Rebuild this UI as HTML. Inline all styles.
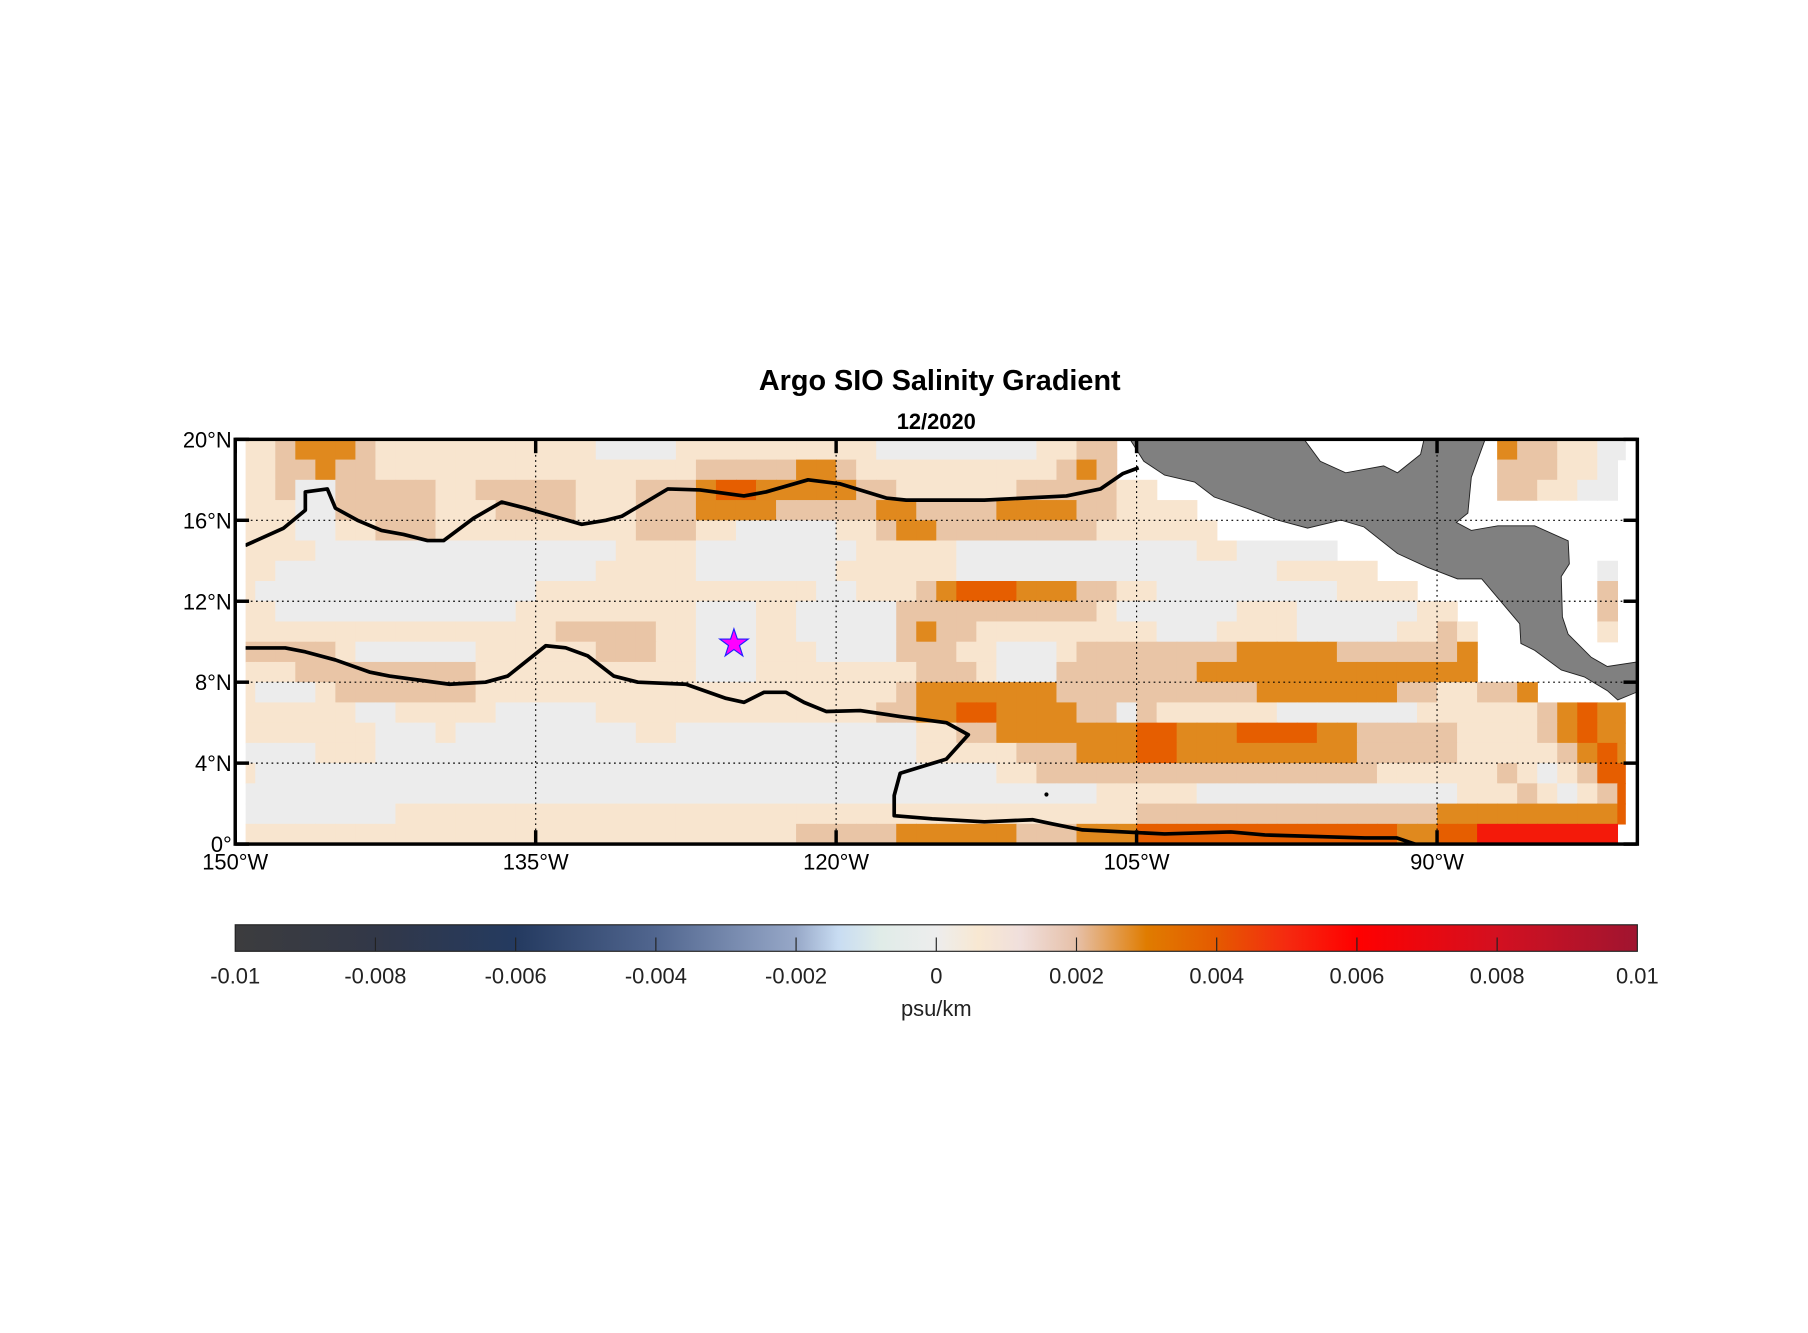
<!DOCTYPE html>
<html><head><meta charset="utf-8"><title>Argo SIO Salinity Gradient</title>
<style>
html,body{margin:0;padding:0;background:#fff;}
svg{display:block;font-family:"Liberation Sans",Arial,sans-serif;}
</style></head>
<body>
<svg id="chart" width="1808" height="1333" viewBox="0 0 1568 1156" xmlns="http://www.w3.org/2000/svg">
<defs>
<clipPath id="plotClip"><rect x="213" y="382" width="1197" height="350"/></clipPath>
<linearGradient id="cbGrad" x1="0" x2="1" y1="0" y2="0">
<stop offset="0" stop-color="#3c3c3e"/><stop offset="0.1" stop-color="#323848"/><stop offset="0.2" stop-color="#243a60"/>
<stop offset="0.3" stop-color="#51668f"/><stop offset="0.4" stop-color="#97a8c8"/><stop offset="0.43" stop-color="#c8dcf2"/>
<stop offset="0.46" stop-color="#e0ece8"/><stop offset="0.5" stop-color="#ededed"/><stop offset="0.53" stop-color="#f8e8d2"/>
<stop offset="0.56" stop-color="#f0dfdc"/><stop offset="0.6" stop-color="#e6c0a8"/><stop offset="0.65" stop-color="#e07c00"/>
<stop offset="0.7" stop-color="#e55a00"/><stop offset="0.75" stop-color="#f52a10"/><stop offset="0.8" stop-color="#ff0000"/>
<stop offset="0.9" stop-color="#d31020"/><stop offset="1" stop-color="#a01530"/>
</linearGradient>
</defs>
<text x="815" y="338" text-anchor="middle" font-size="25" font-weight="bold">Argo SIO Salinity Gradient</text>
<text x="812" y="372" text-anchor="middle" font-size="19" font-weight="bold">12/2020</text>
<g id="cells" clip-path="url(#plotClip)"></g>
<path fill="#808080" stroke="#222" stroke-width="0.8" d="M980,381 L1131,381 L1145,400 L1167,410 L1200,404 L1212,410 L1232,394 L1235,381 L1288,381 L1276,414 L1273,445 L1263,453 L1276,460 L1299,456 L1331,456 L1360,469 L1361,489 L1354,500 L1355,535 L1360,550 L1380,570 L1394,578 L1420,574 L1420,600 L1403,607 L1394,599 L1374,587 L1354,581 L1331,564 L1319,558 L1318,541 L1285,502 L1264,502 L1238,492 L1212,480 L1183,457 L1163,451 L1134,458 L1108,451 L1082,441 L1053,431 L1036,418 L1010,412 L992,400 Z"/>
<g id="grid"></g>
<g id="contours" clip-path="url(#plotClip)"></g>
<g id="marks"></g>
<rect x="204" y="381" width="1216" height="351" fill="none" stroke="#000" stroke-width="3"/>
<g id="axes" font-size="19"></g>
<g>
<rect x="204" y="802" width="1216" height="23" fill="url(#cbGrad)" stroke="#222" stroke-width="1"/>
<g id="cbticks" font-size="19"></g>
<text x="812" y="881" text-anchor="middle" font-size="19" fill="#222">psu/km</text>
</g>
</svg>
<script>
const lonTicks = [-150, -135, -120, -105, -90];
const lonTickLabels = ["150°W", "135°W", "120°W", "105°W", "90°W"];
const latTicks = [0, 4, 8, 12, 16, 20];
const latTickLabels = ["0°", "4°N", "8°N", "12°N", "16°N", "20°N"];
const cbTicks = [-0.01, -0.008, -0.006, -0.004, -0.002, 0, 0.002, 0.004, 0.006, 0.008, 0.01];
const cbTickLabels = ["-0.01", "-0.008", "-0.006", "-0.004", "-0.002", "0", "0.002", "0.004", "0.006", "0.008", "0.01"];
// value of each code class (psu/km); W = no data
const codeValues = [0.0005, 0.0014, 0.0024, 0.0034, 0.0045, 0.0058];
const levelBounds = [0.001, 0.002, 0.003, 0.004, 0.005];
const levelColors = ["#ececec", "#f8e5cf", "#e9c5a6", "#e0891e", "#e65e00", "#f41a0a"];
// rows from 19.5N (top) to 0.5N; each row = 7 blocks of 10 one-degree columns (150W..81W)
const gradRows = [
["1123332111","1111111100","0011111111","1100000000","1122WWWWWW","WWWWWWWWWW","WWW3221100"],
["1122322111","1111111111","1112222233","2111111111","1232WWWWWW","WWWWWWWWWW","WWW222110W"],
["1120022222","1122222111","2223443333","3221111112","222211WWWW","WWWWWWWWWW","WWW221100W"],
["1110022222","1112222111","2223333222","2233222233","33221111WW","WWWWWWWWWW","WWWWWWWWWW"],
["1110011222","1111111111","2221100000","1123322222","222111111W","WWWWWWWWWW","WWWWWWWWWW"],
["1111000000","0000000001","1110000000","0111110000","0000000011","00000WWWWW","WWWWWWWWWW"],
["1100000000","0000000011","1110000000","1111110000","0000000000","0011111WWW","WWWWWWWW0W"],
["1000000000","0000011111","1111111110","0111234443","3322110000","000001111W","WWWWWWWW2W"],
["1100000000","0000111111","1110001100","0002222222","2221000000","1110000001","1WWWWWWW2W"],
["1111111111","1111112222","2110001100","0002322111","1111110001","1110000011","21WWWWWW1W"],
["2222210000","0011111122","2110001110","0002221100","0122222222","3333322222","23WWWWWWWW"],
["1112222222","2211111111","1110001111","1111222100","0222222233","3333333333","33WWWWWWWW"],
["1000122222","2211111111","1111111111","1112333333","3222222222","2333333322","11223WWWWW"],
["1111110011","1110000011","1111111111","1122334433","3322021111","1100000001","1111123433"],
["1111111000","1000000000","1100000000","0000112233","3333344333","4444332222","2111123433"],
["0000111000","0000000000","0000000000","0000111112","2233344333","3333332222","2111112343"],
["1000000000","0000000000","0000000000","0000000011","2222222222","2222222111","1112101244"],
["0000000000","0000000000","0000000000","0000000000","0001111100","0000000000","0111210124"],
["0000000011","1111111111","1111111111","1111111111","1111122222","2222222222","3333333334"],
["1111111111","1111111111","1111111122","2223333332","2233344444","4444444433","445555555W"]
];
</script>
<script>
(function(){
const NS="http://www.w3.org/2000/svg";
const X0=204, X1=1420, Y0=381, Y1=732;
function xS(lon){return X0+(lon+150)/70*(X1-X0);}
function yS(lat){return Y1-(lat/20)*(Y1-Y0);}
function colorFor(v){let i=0;while(i<levelBounds.length&&v>=levelBounds[i])i++;return levelColors[i];}
const cells=document.getElementById('cells');
gradRows.forEach((blocks,r)=>{
  const s=blocks.join('');
  const latTop=20-r, latBot=19-r;
  for(let c=0;c<s.length&&c<70;c++){
    const ch=s[c]; if(ch==='W') continue;
    const code=parseInt(ch,10); if(isNaN(code)) continue;
    const v=codeValues[code];
    const lon0=-150+c, lon1=-149+c;
    const el=document.createElementNS(NS,'rect');
    el.setAttribute('x',xS(lon0).toFixed(2));
    el.setAttribute('y',yS(latTop).toFixed(2));
    el.setAttribute('width',(xS(lon1)-xS(lon0)+0.6).toFixed(2));
    el.setAttribute('height',(yS(latBot)-yS(latTop)+0.6).toFixed(2));
    el.setAttribute('fill',colorFor(v));
    
    
    cells.appendChild(el);
  }
});
const grid=document.getElementById('grid');
lonTicks.slice(1).forEach(l=>{
  const ln=document.createElementNS(NS,'line');
  ln.setAttribute('x1',xS(l));ln.setAttribute('x2',xS(l));ln.setAttribute('y1',Y0);ln.setAttribute('y2',Y1);
  ln.setAttribute('stroke','#000');ln.setAttribute('stroke-width','1');ln.setAttribute('stroke-dasharray','1.5,3');
  
  
  grid.appendChild(ln);
});
latTicks.slice(1,-1).forEach(l=>{
  const ln=document.createElementNS(NS,'line');
  ln.setAttribute('x1',X0);ln.setAttribute('x2',X1);ln.setAttribute('y1',yS(l));ln.setAttribute('y2',yS(l));
  ln.setAttribute('stroke','#000');ln.setAttribute('stroke-width','1');ln.setAttribute('stroke-dasharray','1.5,3');
  
  
  grid.appendChild(ln);
});
})();
</script>
<script>
const upperContourLon=[-149.5,-147.6,-146.5,-146.5,-145.4,-145.0,-143.9,-142.7,-141.6,-140.4,-139.6,-138.1,-136.7,-135.5,-134.1,-132.7,-131.5,-130.7,-129.5,-128.4,-126.8,-124.6,-123.5,-121.4,-119.8,-118.8,-117.5,-116.5,-112.6,-108.5,-106.8,-105.7,-104.9];
const upperContourLat=[14.76,15.6,16.5,17.4,17.55,16.6,16.0,15.5,15.3,15.0,15.0,16.1,16.9,16.6,16.2,15.8,16.0,16.2,16.9,17.55,17.5,17.2,17.4,18.0,17.8,17.5,17.1,17.0,17.0,17.2,17.55,18.3,18.6];
const lowerContourLon=[-149.5,-147.5,-146.5,-145.0,-143.3,-142.3,-139.3,-137.5,-136.4,-134.5,-133.5,-132.4,-131.1,-129.9,-127.5,-125.5,-124.6,-123.6,-122.5,-121.6,-120.5,-118.8,-116.8,-114.5,-113.4,-114.5,-116.8,-117.1,-117.1,-115.2,-112.6,-110.2,-109.2,-107.7,-103.6,-100.3,-98.6,-93.6,-92.0,-91.1];
const lowerContourLat=[9.69,9.69,9.5,9.1,8.5,8.3,7.9,8.0,8.3,9.8,9.7,9.3,8.3,8.0,7.9,7.2,7.0,7.5,7.5,7.0,6.55,6.6,6.3,6.0,5.4,4.2,3.5,2.4,1.4,1.25,1.1,1.2,1.0,0.7,0.5,0.6,0.45,0.3,0.3,0.0];
const dotLon=[-109.5], dotLat=[2.45];
const starLon=[-125.1], starLat=[9.9];
(function(){
const NS="http://www.w3.org/2000/svg";
const X0=204, X1=1420, Y0=381, Y1=732;
function xS(lon){return X0+(lon+150)/70*(X1-X0);}
function yS(lat){return Y1-(lat/20)*(Y1-Y0);}
const cg=document.getElementById('contours');
[[upperContourLon,upperContourLat,'contour-upper'],[lowerContourLon,lowerContourLat,'contour-lower']].forEach(([lo,la,nm])=>{
  const p=document.createElementNS(NS,'polyline');
  p.setAttribute('points',lo.map((v,i)=>xS(v).toFixed(1)+','+yS(la[i]).toFixed(1)).join(' '));
  p.setAttribute('fill','none');p.setAttribute('stroke','#000');p.setAttribute('stroke-width','3.2');p.setAttribute('stroke-linejoin','round');
  
  
  cg.appendChild(p);
});
const mg=document.getElementById('marks');
dotLon.forEach((v,i)=>{
  const c=document.createElementNS(NS,'circle');
  c.setAttribute('cx',xS(v));c.setAttribute('cy',yS(dotLat[i]));c.setAttribute('r','1.8');c.setAttribute('fill','#000');
  
  
  mg.appendChild(c);
});
starLon.forEach((v,i)=>{
  const cx=xS(v), cy=yS(starLat[i]); const pts=[];
  for(let k=0;k<10;k++){const a=-Math.PI/2+k*Math.PI/5;const r=k%2?5:13;pts.push((cx+r*Math.cos(a)).toFixed(1)+','+(cy+r*Math.sin(a)).toFixed(1));}
  const s=document.createElementNS(NS,'polygon');
  s.setAttribute('points',pts.join(' '));s.setAttribute('fill','#ff00ff');s.setAttribute('stroke','#2020ff');s.setAttribute('stroke-width','1');
  
  
  mg.appendChild(s);
});
const ax=document.getElementById('axes');
lonTicks.forEach((l,i)=>{
  const x=xS(l);
  [[Y0,Y0+12],[Y1-12,Y1]].forEach(([a,b])=>{
    const t=document.createElementNS(NS,'line');
    t.setAttribute('x1',x);t.setAttribute('x2',x);t.setAttribute('y1',a);t.setAttribute('y2',b);t.setAttribute('stroke','#000');t.setAttribute('stroke-width','3');
    
    
    ax.appendChild(t);
  });
  const tx=document.createElementNS(NS,'text');
  tx.setAttribute('x',x);tx.setAttribute('y',Y1+22);tx.setAttribute('text-anchor','middle');tx.textContent=lonTickLabels[i];
  
  
  ax.appendChild(tx);
});
latTicks.forEach((l,i)=>{
  const y=yS(l);
  [[X0,X0+12],[X1-12,X1]].forEach(([a,b])=>{
    const t=document.createElementNS(NS,'line');
    t.setAttribute('x1',a);t.setAttribute('x2',b);t.setAttribute('y1',y);t.setAttribute('y2',y);t.setAttribute('stroke','#000');t.setAttribute('stroke-width','3');
    
    
    ax.appendChild(t);
  });
  const tx=document.createElementNS(NS,'text');
  tx.setAttribute('x',X0-3);tx.setAttribute('y',y+7);tx.setAttribute('text-anchor','end');tx.textContent=latTickLabels[i];
  
  
  ax.appendChild(tx);
});
const cb=document.getElementById('cbticks');
function cbx(v){return 204+(v+0.01)/0.02*1216;}
cbTicks.forEach((v,i)=>{
  const x=cbx(v);
  if(i>0&&i<cbTicks.length-1){
    const t=document.createElementNS(NS,'line');
    t.setAttribute('x1',x);t.setAttribute('x2',x);t.setAttribute('y1',813);t.setAttribute('y2',825);t.setAttribute('stroke','#222');t.setAttribute('stroke-width','1');
    
    
    cb.appendChild(t);
  }
  const tx=document.createElementNS(NS,'text');
  tx.setAttribute('x',x);tx.setAttribute('y',853);tx.setAttribute('text-anchor','middle');tx.setAttribute('fill','#222');tx.textContent=cbTickLabels[i];
  
  
  cb.appendChild(tx);
});
})();
</script>
</body></html>
